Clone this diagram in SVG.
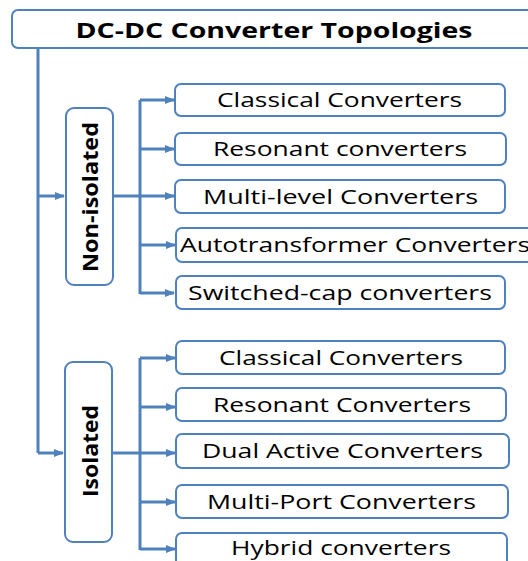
<svg xmlns="http://www.w3.org/2000/svg" width="528" height="561" viewBox="0 0 528 561">
<defs>
<marker id="ah" markerUnits="userSpaceOnUse" markerWidth="10" markerHeight="10" viewBox="0 0 10 10" refX="9" refY="5" orient="auto">
<path d="M0,1 L10,5 L0,9 Z" fill="#4F81BD"/>
</marker>
<style>
.box{fill:#fff;stroke:#4F81BD;stroke-width:2}
.c{fill:none;stroke:#4F81BD;stroke-width:3}
.a{fill:none;stroke:#4F81BD;stroke-width:3;marker-end:url(#ah)}
.t{font-family:"Open Sans","Noto Sans",sans-serif;font-size:20px;fill:#000;text-anchor:middle}
.b{font-family:"Open Sans","Noto Sans",sans-serif;font-size:22px;font-weight:bold;fill:#000;text-anchor:middle}
</style>
</defs>
<rect width="528" height="561" fill="#fff"/>
<g id="connectors">
<path class="c" d="M38,48 V453"/>
<path class="a" d="M38,196 H64"/>
<path class="a" d="M38,453 H63"/>
<path class="c" d="M113,196 H140"/>
<path class="c" d="M140,100 V294"/>
<path class="a" d="M140,100 H174"/>
<path class="a" d="M140,149 H174"/>
<path class="a" d="M140,196 H174"/>
<path class="a" d="M140,245 H175"/>
<path class="a" d="M140,293 H174"/>
<path class="c" d="M112,453 H140"/>
<path class="c" d="M140,358 V550"/>
<path class="a" d="M140,358 H175"/>
<path class="a" d="M140,407 H175"/>
<path class="a" d="M140,453 H175"/>
<path class="a" d="M140,502 H175"/>
<path class="a" d="M140,549 H175"/>
</g>
<g id="title"><rect class="box" x="12" y="10" width="540" height="38" rx="6"/><text class="b" x="274" y="38" textLength="397" lengthAdjust="spacingAndGlyphs">DC-DC Converter Topologies</text></g>
<g id="nonisolated"><rect class="box" x="66" y="108" width="47" height="177" rx="8"/><text class="b" transform="translate(98,197) rotate(-90)" x="0" y="0" textLength="150" lengthAdjust="spacingAndGlyphs">Non-isolated</text></g>
<g id="isolated"><rect class="box" x="65" y="362" width="47" height="180" rx="8"/><text class="b" transform="translate(98,451) rotate(-90)" x="0" y="0" textLength="92" lengthAdjust="spacingAndGlyphs">Isolated</text></g>
<g id="n1"><rect class="box" x="175" y="84" width="330" height="32" rx="6"/><text class="t" x="339.5" y="107" textLength="245" lengthAdjust="spacingAndGlyphs">Classical Converters</text></g>
<g id="n2"><rect class="box" x="175" y="133" width="331" height="32" rx="6"/><text class="t" x="340" y="156" textLength="254" lengthAdjust="spacingAndGlyphs">Resonant converters</text></g>
<g id="n3"><rect class="box" x="175" y="180" width="330" height="33" rx="6"/><text class="t" x="340.5" y="204" textLength="275" lengthAdjust="spacingAndGlyphs">Multi-level Converters</text></g>
<g id="n4"><rect class="box" x="176" y="228" width="370" height="34" rx="6"/><text class="t" x="355" y="252" textLength="350" lengthAdjust="spacingAndGlyphs">Autotransformer Converters</text></g>
<g id="n5"><rect class="box" x="176" y="276" width="329" height="33" rx="6"/><text class="t" x="340" y="300" textLength="304" lengthAdjust="spacingAndGlyphs">Switched-cap converters</text></g>
<g id="i1"><rect class="box" x="176" y="341" width="329" height="33" rx="6"/><text class="t" x="341" y="365" textLength="244" lengthAdjust="spacingAndGlyphs">Classical Converters</text></g>
<g id="i2"><rect class="box" x="176" y="388" width="330" height="33" rx="6"/><text class="t" x="342" y="412" textLength="258" lengthAdjust="spacingAndGlyphs">Resonant Converters</text></g>
<g id="i3"><rect class="box" x="176" y="434" width="333" height="34" rx="6"/><text class="t" x="342.5" y="458" textLength="281" lengthAdjust="spacingAndGlyphs">Dual Active Converters</text></g>
<g id="i4"><rect class="box" x="176" y="485" width="332" height="33" rx="6"/><text class="t" x="341.5" y="509" textLength="269" lengthAdjust="spacingAndGlyphs">Multi-Port Converters</text></g>
<g id="i5"><rect class="box" x="176" y="533" width="331" height="40" rx="6"/><text class="t" x="341" y="555" textLength="220" lengthAdjust="spacingAndGlyphs">Hybrid converters</text></g>
</svg>
